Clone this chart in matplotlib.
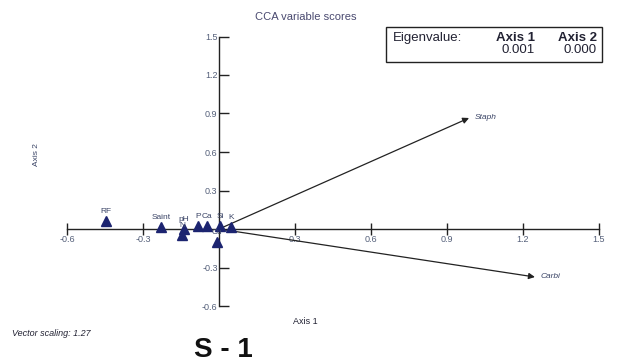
import matplotlib
matplotlib.use("Agg")
import matplotlib.pyplot as plt
from matplotlib.patches import Rectangle

# ---- data ----
site_labels = ["RF", "Saint", "pH", "N", "P", "Ca", "Cu", "Si", "K"]
site_x = [-0.446, -0.229, -0.140, -0.145, -0.083, -0.047, -0.008, 0.004, 0.047]
site_y = [0.060, 0.015, 0.000, -0.050, 0.020, 0.020, -0.100, 0.025, 0.015]

species_labels = ["Staph", "Carbi"]
species_x = [0.987, 1.247]
species_y = [0.865, -0.374]

xticks = [-0.6, -0.3, 0.3, 0.6, 0.9, 1.2, 1.5]
yticks = [1.5, 1.2, 0.9, 0.6, 0.3, -0.3, -0.6]
eig_axis1 = "0.001"
eig_axis2 = "0.000"

plt.rcParams['font.family'] = ['Liberation Sans', 'DejaVu Sans']

fig = plt.figure(figsize=(6.17, 3.63), dpi=100)
ax = fig.add_axes([0, 0, 1, 1])
# pixel mapping: x0=219px, 0.3 -> 76px ; y0=229px, 0.3 -> 38.5px
sx = 76 / 0.3
sy = 38.5 / 0.3
ax.set_xlim(-219 / sx, (617 - 219) / sx)
ax.set_ylim((229 - 363) / sy, 229 / sy)

for s in ['top', 'right']:
    ax.spines[s].set_visible(False)
ax.spines['left'].set_position(('data', 0))
ax.spines['bottom'].set_position(('data', 0))
ax.spines['left'].set_bounds(-0.6, 1.5)
ax.spines['bottom'].set_bounds(-0.6, 1.5)
for s in ['left', 'bottom']:
    ax.spines[s].set_linewidth(1.0)
    ax.spines[s].set_color('#222222')

tick_color = '#55607a'
ax.set_xticks(xticks)
ax.set_xticklabels([f"{v:.1f}" for v in xticks])
ax.set_yticks(yticks)
ax.set_yticklabels([f"{v:.1f}" for v in yticks])
ax.tick_params(axis='x', direction='inout', length=9, width=1.0, color='#222222',
               labelsize=6.5, labelcolor=tick_color, pad=0)
ax.tick_params(axis='y', direction='in', length=7, width=1.0, color='#222222',
               labelsize=6.5, labelcolor=tick_color, pad=1)

# site points
ax.plot(site_x, site_y, linestyle='none', marker='^', markersize=7,
        color='#1c2470', markeredgecolor='#1c2470', zorder=4)
for lab, x, y in zip(site_labels, site_x, site_y):
    ax.annotate(lab, (x, y), xytext=(0, 4.5), textcoords='offset points',
                ha='center', va='bottom', fontsize=6, color='#3a4466', zorder=5)

# species arrows
for lab, x, y in zip(species_labels, species_x, species_y):
    ax.annotate('', xy=(x, y), xytext=(0, 0),
                arrowprops=dict(arrowstyle='-|>', color='#222222', lw=0.9,
                                mutation_scale=9, shrinkA=0, shrinkB=0))
    ax.annotate(lab, (x, y), xytext=(4, 0), textcoords='offset points',
                ha='left', va='center', fontsize=6, style='italic', color='#3a4466')

# texts
fig.text(306 / 617, 1 - 17 / 363, "CCA variable scores", ha='center', va='center',
         fontsize=8, color='#4a4a70')
fig.text(36 / 617, 1 - 155 / 363, "Axis 2", ha='center', va='center',
         rotation=90, fontsize=6, color='#3a4466')
fig.text(305 / 617, 1 - 322 / 363, "Axis 1", ha='center', va='center',
         fontsize=6.5, color='#222233')
fig.text(12 / 617, 1 - 334 / 363, "Vector scaling: 1.27", ha='left', va='center',
         fontsize=6.5, style='italic', color='#222233')
fig.text(223 / 617, 1 - 350 / 363, "S - 1", ha='center', va='center',
         fontsize=20, fontweight='bold', color='#111111')

# eigenvalue box
fig.patches.append(Rectangle((386 / 617, 1 - 62 / 363), (602 - 386) / 617, (62 - 27) / 363,
                             transform=fig.transFigure, fill=False,
                             edgecolor='#222222', linewidth=1.0))
fig.text(393 / 617, 1 - 38 / 363, "Eigenvalue:", ha='left', va='center',
         fontsize=9.5, color='#222233')
fig.text(535 / 617, 1 - 38 / 363, "Axis 1", ha='right', va='center',
         fontsize=9.5, fontweight='bold', color='#222233')
fig.text(597 / 617, 1 - 38 / 363, "Axis 2", ha='right', va='center',
         fontsize=9.5, fontweight='bold', color='#222233')
fig.text(535 / 617, 1 - 50 / 363, eig_axis1, ha='right', va='center',
         fontsize=9.5, color='#222233')
fig.text(597 / 617, 1 - 50 / 363, eig_axis2, ha='right', va='center',
         fontsize=9.5, color='#222233')

fig.savefig("out.png", dpi=100)
